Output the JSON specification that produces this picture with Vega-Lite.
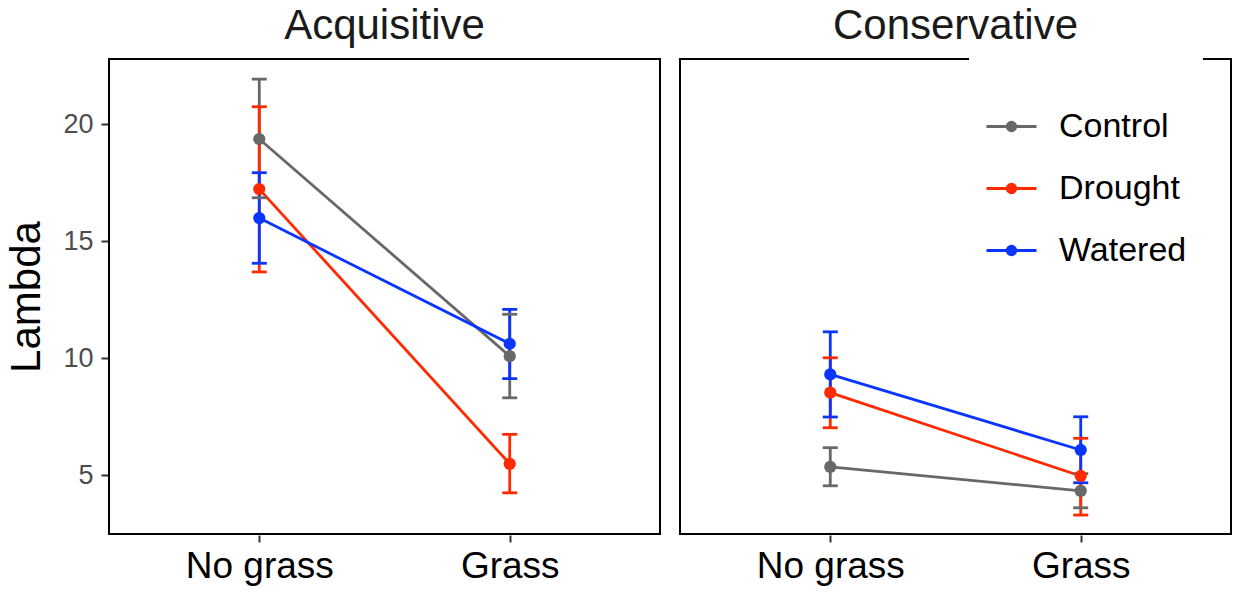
{
  "$schema": "https://vega.github.io/schema/vega-lite/v6.json",
  "autosize": {"type": "pad"},
  "padding": {"left": 5, "top": 5, "right": 5, "bottom": 5},
  "background": "white",
  "data": {"values": [
    {"panel": "Acquisitive", "treatment": "Control", "grass": "No grass", "mean": 19.36, "lo": 16.85, "hi": 21.92},
    {"panel": "Acquisitive", "treatment": "Drought", "grass": "No grass", "mean": 17.22, "lo": 13.68, "hi": 20.74},
    {"panel": "Acquisitive", "treatment": "Watered", "grass": "No grass", "mean": 15.98, "lo": 14.05, "hi": 17.92},
    {"panel": "Acquisitive", "treatment": "Control", "grass": "Grass", "mean": 10.08, "lo": 8.30, "hi": 11.87},
    {"panel": "Acquisitive", "treatment": "Drought", "grass": "Grass", "mean": 5.48, "lo": 4.24, "hi": 6.74},
    {"panel": "Acquisitive", "treatment": "Watered", "grass": "Grass", "mean": 10.61, "lo": 9.12, "hi": 12.08},
    {"panel": "Conservative", "treatment": "Control", "grass": "No grass", "mean": 5.35, "lo": 4.54, "hi": 6.17},
    {"panel": "Conservative", "treatment": "Drought", "grass": "No grass", "mean": 8.52, "lo": 7.02, "hi": 10.01},
    {"panel": "Conservative", "treatment": "Watered", "grass": "No grass", "mean": 9.30, "lo": 7.48, "hi": 11.12},
    {"panel": "Conservative", "treatment": "Control", "grass": "Grass", "mean": 4.32, "lo": 3.60, "hi": 5.06},
    {"panel": "Conservative", "treatment": "Drought", "grass": "Grass", "mean": 4.96, "lo": 3.29, "hi": 6.57},
    {"panel": "Conservative", "treatment": "Watered", "grass": "Grass", "mean": 6.07, "lo": 4.67, "hi": 7.49}
  ]},
  "facet": {
    "column": {
      "field": "panel", "type": "nominal", "sort": ["Acquisitive", "Conservative"], "title": null,
      "header": {"labelFontSize": 42, "labelFont": "Liberation Sans", "labelColor": "#1a1a1a", "labelPadding": -23, "labelBaseline": "alphabetic"}
    }
  },
  "spacing": 18,
  "spec": {
    "width": 551,
    "height": 475,
    "encoding": {
      "x": {
        "field": "grass", "type": "nominal", "sort": ["No grass", "Grass"],
        "scale": {"type": "point", "padding": 0.6},
        "axis": {"title": null, "labelAngle": 0, "labelFontSize": 37, "labelColor": "#000000", "labelPadding": 6}
      },
      "color": {
        "field": "treatment", "type": "nominal",
        "scale": {"domain": ["Control", "Drought", "Watered"], "range": ["#686868", "#ff2a00", "#0a35ff"]},
        "legend": {
          "orient": "none", "legendX": 860, "legendY": -4,
          "fillColor": "white", "padding": 16,
          "title": " ", "titleFontSize": 16, "titlePadding": 13,
          "symbolType": "M-1,0L1,0M-0.17,0A0.17,0.17,0,1,0,0.17,0A0.17,0.17,0,1,0,-0.17,0Z",
          "symbolSize": 2500, "symbolStrokeWidth": 2.5,
          "labelFontSize": 34, "labelFont": "Liberation Sans", "labelColor": "#000000", "labelOffset": 21,
          "rowPadding": 18,
          "encode": {"symbols": {"update": {
            "fill": {"scale": "color", "field": "value"},
            "stroke": {"scale": "color", "field": "value"},
            "strokeWidth": {"value": 2.8},
            "opacity": {"value": 1}
          }}}
        }
      }
    },
    "layer": [
      {
        "mark": {"type": "line", "strokeWidth": 2.8},
        "encoding": {
          "y": {
            "field": "mean", "type": "quantitative",
            "scale": {"domain": [2.48, 22.78], "nice": false, "zero": false},
            "axis": {"title": "Lambda", "titleFontSize": 42, "titleFont": "Liberation Sans", "titleFontWeight": "normal", "titleColor": "#000000", "titlePadding": 14, "values": [5, 10, 15, 20], "labelFontSize": 27, "labelColor": "#4d4d4d", "labelPadding": 8}
          }
        }
      },
      {
        "mark": {"type": "rule", "strokeWidth": 2.8},
        "encoding": {"y": {"field": "lo", "type": "quantitative"}, "y2": {"field": "hi"}}
      },
      {
        "mark": {"type": "tick", "size": 15, "thickness": 2.8, "opacity": 1},
        "encoding": {"y": {"field": "lo", "type": "quantitative"}}
      },
      {
        "mark": {"type": "tick", "size": 15, "thickness": 2.8, "opacity": 1},
        "encoding": {"y": {"field": "hi", "type": "quantitative"}}
      },
      {
        "mark": {"type": "point", "filled": true, "size": 150, "opacity": 1},
        "encoding": {"y": {"field": "mean", "type": "quantitative"}}
      }
    ]
  },
  "config": {
    "font": "Liberation Sans",
    "view": {"stroke": "#000000", "strokeWidth": 2},
    "axis": {"domain": false, "grid": false, "tickColor": "#333333", "tickWidth": 2, "tickSize": 7, "labelFont": "Liberation Sans"}
  }
}
